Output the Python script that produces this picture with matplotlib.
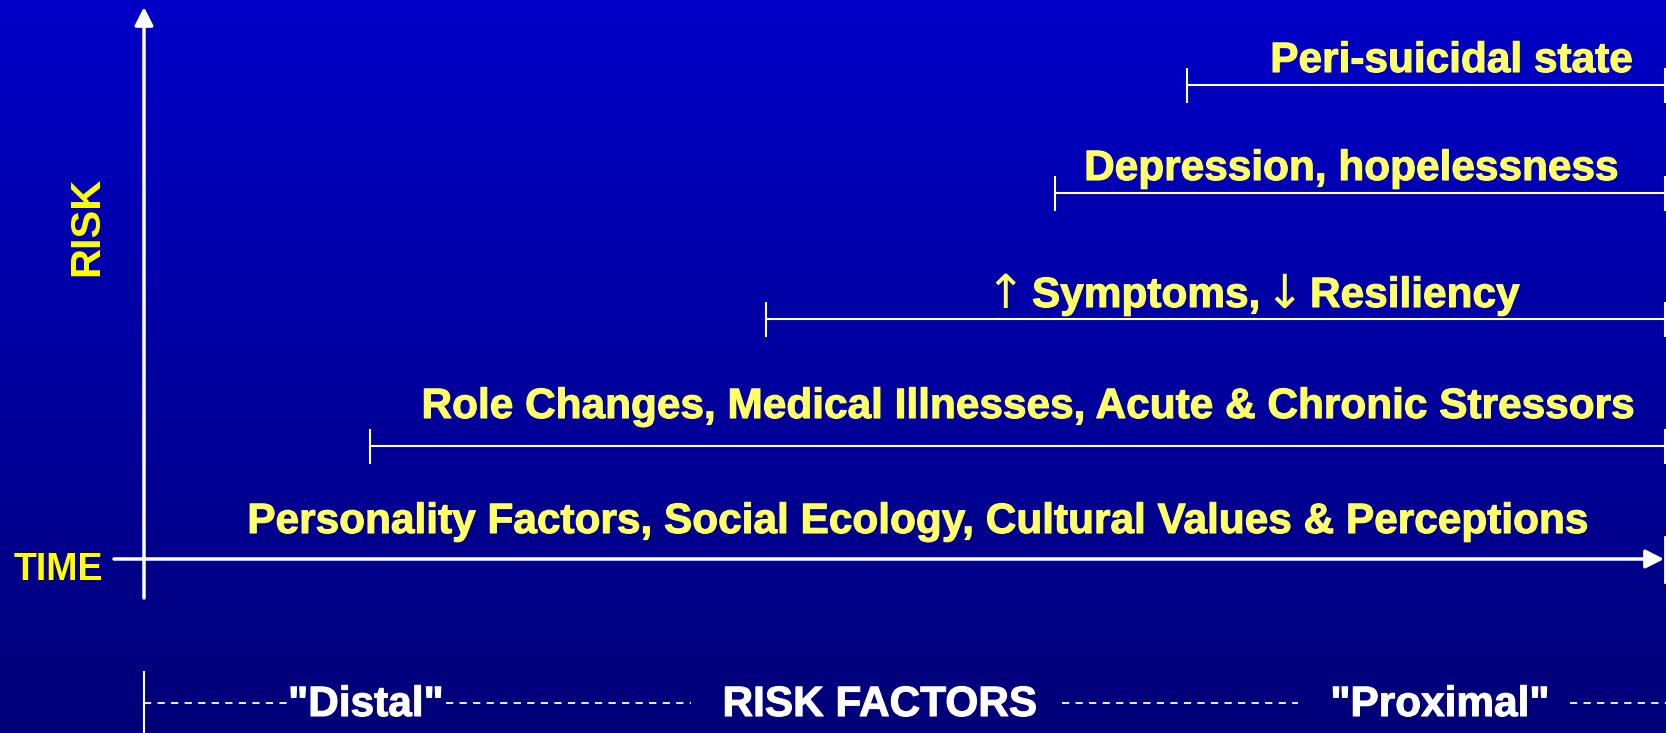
import numpy as np
import matplotlib
matplotlib.use('Agg')
import matplotlib.pyplot as plt
import matplotlib.patheffects as pe

# Risk-factor levels (top to bottom), drawn in pixel space of a 1666x733 canvas
labels = ["Peri-suicidal state",
          "Depression, hopelessness",
          None,  # "↑ Symptoms, ↓ Resiliency" is built from pieces below
          "Role Changes, Medical Illnesses, Acute & Chronic Stressors",
          "Personality Factors, Social Ecology, Cultural Values & Perceptions"]
label_x = [1452, 1352, 1255, 1029, 919]
label_base = [72, 180, 307, 418, 533]
onset_x = [1187, 1055, 766, 370]        # where each bracket starts
bracket_y = [85, 193, 319, 446]

# third level: arrows drawn with a thin symbol font
sym_pieces = ["\u2191", "Symptoms,", "\u2193", "Resiliency"]
sym_x = [1005, 1032, 1284, 1310]

bottom_labels = ['"Distal"', 'RISK FACTORS', '"Proximal"']
bottom_x = [366, 880, 1440]
dash_segments = [(144, 289), (446, 691), (1062, 1298), (1570, 1666)]

W, H = 1666, 733
origin_x, origin_y = 144, 559
yellow_lbl = '#FFFF66'
font = 'Liberation Sans'

fig = plt.figure(figsize=(W / 100, H / 100), dpi=100)
ax = fig.add_axes([0, 0, 1, 1])
ax.set_xlim(0, W)
ax.set_ylim(H, 0)
ax.axis('off')

# vertical blue gradient background
grad = np.linspace(0, 1, 256)[:, None]
top = np.array([0, 0, 200]) / 255
bot = np.array([0, 0, 120]) / 255
img = top[None, None, :] * (1 - grad[..., None]) + bot[None, None, :] * grad[..., None]
ax.imshow(img, extent=[0, W, H, 0], aspect='auto', zorder=0)

# axes arrows
head = '-|>,head_length=0.55,head_width=0.28'
ax.annotate('', xy=(origin_x, 7), xytext=(origin_x, 598),
            arrowprops=dict(arrowstyle=head, color='white', lw=2.5, mutation_scale=20,
                            shrinkA=0, shrinkB=0))
ax.annotate('', xy=(W - 2, origin_y), xytext=(114, origin_y),
            arrowprops=dict(arrowstyle=head, color='white', lw=2.5, mutation_scale=20,
                            shrinkA=0, shrinkB=0))
ax.plot([W - 1, W - 1], [537, 582], color='white', lw=2)

# brackets
for x0, y in zip(onset_x, bracket_y):
    ax.plot([x0, W], [y, y], color='white', lw=1.5)
    ax.plot([x0, x0], [y - 16, y + 17], color='white', lw=1.5)
    ax.plot([W - 1, W - 1], [y - 16, y + 17], color='white', lw=1.5)

thick = [pe.withStroke(linewidth=0.8, foreground=yellow_lbl)]

# level labels
for txt, x, y in zip(labels, label_x, label_base):
    if txt is None:
        continue
    ax.text(x, y, txt, color=yellow_lbl, fontsize=30.5, fontweight='bold',
            family=font, ha='center', va='baseline', path_effects=thick)

base = label_base[2]
for i, (txt, x) in enumerate(zip(sym_pieces, sym_x)):
    if i % 2 == 0:
        ax.text(x, base + 1, txt, color=yellow_lbl, fontsize=34, fontweight='normal',
                family='DejaVu Sans', ha='center', va='baseline')
    else:
        ax.text(x, base, txt, color=yellow_lbl, fontsize=30.5, fontweight='bold',
                family=font, ha='left', va='baseline', path_effects=thick)

# axis titles
ax.text(58, 580, 'TIME', color='#FFFF00', fontsize=27, fontweight='bold',
        family=font, ha='center', va='baseline')
ax.text(87, 226, 'RISK', color='#FFFF00', fontsize=30, fontweight='bold',
        family=font, ha='center', va='center', rotation=90)

# bottom distal/proximal scale
ax.plot([origin_x, origin_x], [672, H], color='white', lw=1.5)
for a, b in dash_segments:
    ax.plot([a, b], [703, 703], color='white', lw=1.3, linestyle=(0, (4, 3.5)))
for txt, x in zip(bottom_labels, bottom_x):
    ax.text(x, 716, txt, color='white', fontsize=30.5, fontweight='bold',
            family=font, ha='center', va='baseline',
            path_effects=[pe.withStroke(linewidth=0.8, foreground='white')])

fig.savefig('out.png', dpi=100)
